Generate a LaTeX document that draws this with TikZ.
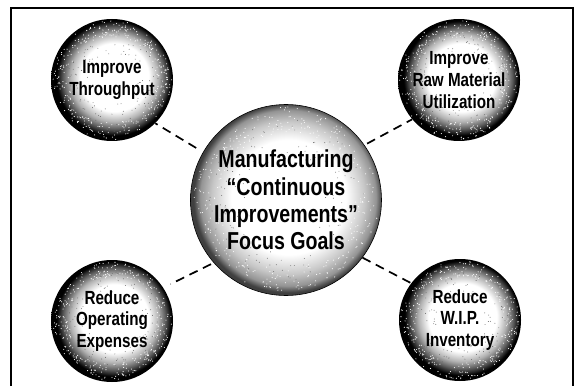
\documentclass[tikz,border=0pt]{standalone}
\usepackage{fontspec}
\setmainfont{Liberation Sans}[FakeStretch=0.8]
\usetikzlibrary{positioning,calc}
\pgfdeclareradialshading{goalshade}{\pgfpoint{1.5bp}{1.5bp}}{color(0bp)=(white); color(14bp)=(white); color(18bp)=(black!30); color(21bp)=(black!65); color(23.5bp)=(black); color(50bp)=(black)}
\pgfdeclareradialshading{focusshade}{\pgfpoint{1bp}{1bp}}{color(0bp)=(white); color(15bp)=(white); color(20bp)=(black!22); color(23bp)=(black!42); color(24.7bp)=(black!75); color(50bp)=(black)}
\newcommand\grainify[1]{%
    \foreach \k in {1,...,340}
        \fill[white] ($(path picture bounding box.center)+({360*rnd}:{#1*(0.7+0.28*rnd)})$) circle (0.55pt);
    \foreach \k in {1,...,130}
        \fill[black!60] ($(path picture bounding box.center)+({360*rnd}:{#1*(0.4+0.45*rnd)})$) circle (0.45pt);}

\begin{document}
\begin{tikzpicture}[x=1pt,y=1pt,
    goal/.style={circle,shading=goalshade,path picture={\grainify{61}},minimum size=122pt,inner sep=0pt,align=center,font=\bfseries\fontsize{19}{21.7}\selectfont},
    focus/.style={circle,shading=focusshade,path picture={\grainify{95}},draw=black,line width=0.6pt,minimum size=191pt,inner sep=0pt,align=center,font=\bfseries\fontsize{24.5}{27.4}\selectfont},
    link/.style={line width=1.7pt,dash pattern=on 9pt off 6pt}]
    \pgfmathsetseed{7}
    \useasboundingbox (0,0) rectangle (575,386);
    \draw[line width=2.6pt] (11,0) -- (11,378) -- (573,378) -- (573,0);
    \node[focus] (focus) at (286,186) {Manufacturing\\“Continuous\\Improvements”\\Focus Goals};
    \node[goal] (through) [above left=120pt and 174pt of focus.center,anchor=center] {Improve\\Throughput};
    \node[goal] (raw) [above right=120pt and 173pt of focus.center,anchor=center] {Improve\\Raw Material\\Utilization};
    \node[goal] (expense) [below left=121pt and 174pt of focus.center,anchor=center] {Reduce\\Operating\\Expenses};
    \node[goal] (wip) [below right=120pt and 174pt of focus.center,anchor=center] {Reduce\\W.I.P.\\Inventory};
    \draw[link,shorten <=8pt] (focus.150) -- (through.-45);
    \draw[link,shorten <=3pt] (focus.35) -- (raw.220);
    \draw[link,shorten <=3pt,shorten >=8pt] (focus.221) -- (expense.33);
    \draw[link] (focus.323) -- (wip.143);
\end{tikzpicture}
\end{document}
